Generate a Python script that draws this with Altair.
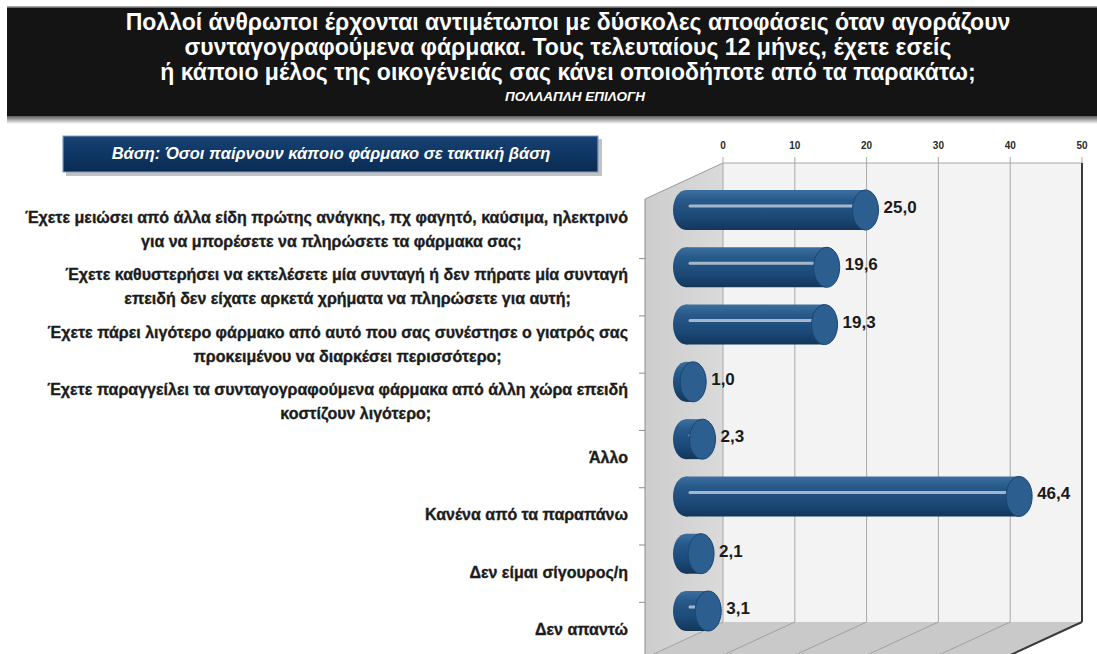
import altair as alt
import pandas as pd

# ---- data -------------------------------------------------------------
categories = [
    "Έχετε μειώσει από άλλα είδη πρώτης ανάγκης, πχ φαγητό, καύσιμα, ηλεκτρινό\nγια να μπορέσετε να πληρώσετε τα φάρμακα σας;",
    "Έχετε καθυστερήσει να εκτελέσετε μία συνταγή ή δεν πήρατε μία συνταγή\nεπειδή δεν είχατε αρκετά χρήματα να πληρώσετε για αυτή;",
    "Έχετε πάρει λιγότερο φάρμακο από αυτό που σας συνέστησε ο γιατρός σας\nπροκειμένου να διαρκέσει περισσότερο;",
    "Έχετε παραγγείλει τα συνταγογραφούμενα φάρμακα από άλλη χώρα επειδή\nκοστίζουν λιγότερο;",
    "Άλλο",
    "Κανένα από τα παραπάνω",
    "Δεν είμαι σίγουρος/η",
    "Δεν απαντώ",
]
values = [25.0, 19.6, 19.3, 1.0, 2.3, 46.4, 2.1, 3.1]
ticks = [0, 10, 20, 30, 40, 50]

title_lines = [
    "Πολλοί άνθρωποι έρχονται αντιμέτωποι με δύσκολες αποφάσεις όταν αγοράζουν",
    "συνταγογραφούμενα φάρμακα. Τους τελευταίους 12 μήνες, έχετε εσείς",
    "ή κάποιο μέλος της οικογένειάς σας κάνει οποιοδήποτε από τα παρακάτω;",
]
subtitle = "ΠΟΛΛΑΠΛΗ ΕΠΙΛΟΓΗ"
base_note = "Βάση: Όσοι παίρνουν κάποιο φάρμακο σε τακτική βάση"

# ---- layout constants (pixels) ----------------------------------------
W, H = 1097, 654
X0, X1 = 723, 1082          # back wall, value 0 .. 50
Y_TOP, Y_BOT = 163, 622     # back wall top / bottom
DX, DY = -78, 36            # depth direction of the 3-D box
BAR_DX = -37                # bars sit half way into the box
BAR_H = 40
CAP_HALF = 13
LABEL_RIGHT = 628
FONT = "Liberation Sans"
LBL_SIZE = 16
CHAR_W = 0.508 * LBL_SIZE   # average glyph width, used to centre second lines

xs = alt.Scale(domain=[0, 50], range=[X0, X1])
ys = alt.Scale(domain=categories, range=[210, 611], type="point", padding=0)

rows = pd.DataFrame({"cat": categories, "value": values})
rows["line1"] = rows["cat"].str.split("\n").str[0]
rows["line2"] = rows["cat"].str.split("\n").str[1].fillna("")
rows["label"] = rows["value"].map(lambda v: f"{v:.1f}".replace(".", ","))
rows["zero"] = 0

tick_df = pd.DataFrame({"t": ticks, "tl": [str(t) for t in ticks]})
one = pd.DataFrame({"k": [0]})

X = lambda f: alt.X(f, type="quantitative", scale=xs, axis=None)
Y = alt.Y("cat:N", scale=ys, axis=None)
PX = lambda f: alt.X(f, type="quantitative", scale=None, axis=None)
PY = lambda f: alt.Y(f, type="quantitative", scale=None, axis=None)

# ---- title band --------------------------------------------------------
title_bg = alt.Chart(one).mark_rect(color="#141414").encode(
    x=alt.value(7), x2=alt.value(W), y=alt.value(7), y2=alt.value(116))
title_edge = alt.Chart(one).mark_rule(color="#8a8a8a", strokeWidth=1.5).encode(
    x=alt.value(7), x2=alt.value(W), y=alt.value(7))
title_shadow = alt.Chart(one).mark_rect(
    color=alt.Gradient(gradient="linear", x1=0, x2=0, y1=0, y2=1,
                       stops=[alt.GradientStop(offset=0, color="#5a5a5a"),
                              alt.GradientStop(offset=1, color="#ffffff")])
).encode(x=alt.value(7), x2=alt.value(W), y=alt.value(116), y2=alt.value(124))
title_txt = alt.Chart(one).mark_text(
    text=title_lines, font=FONT, fontSize=23, fontWeight="bold", color="#ffffff",
    align="center", baseline="middle", lineHeight=25,
).encode(x=alt.value(568), y=alt.value(23))
sub_txt = alt.Chart(one).mark_text(
    text=subtitle, font=FONT, fontSize=13.5, fontWeight="bold", fontStyle="italic",
    color="#ffffff", align="center", baseline="middle",
).encode(x=alt.value(575), y=alt.value(97))

# ---- base note box -----------------------------------------------------
base_shadow = alt.Chart(one).mark_rect(color="#9a9a9a", opacity=0.6).encode(
    x=alt.value(66), x2=alt.value(602), y=alt.value(139), y2=alt.value(176))
base_box = alt.Chart(one).mark_rect(
    color=alt.Gradient(gradient="linear", x1=0, x2=0, y1=0, y2=1,
                       stops=[alt.GradientStop(offset=0, color="#154275"),
                              alt.GradientStop(offset=1, color="#0a2b52")]),
    stroke="#7e9dc0", strokeWidth=1.2,
).encode(x=alt.value(63), x2=alt.value(598), y=alt.value(136), y2=alt.value(172))
base_txt = alt.Chart(one).mark_text(
    text=base_note, font=FONT, fontSize=16.5, fontWeight="bold", fontStyle="italic",
    color="#ffffff", align="center", baseline="middle",
).encode(x=alt.value(331), y=alt.value(154))

# ---- 3-D box: back wall, side wall, floor ------------------------------
back_wall = alt.Chart(one).mark_rect(color="#f3f3f3").encode(
    x=alt.value(X0), x2=alt.value(X1), y=alt.value(Y_TOP), y2=alt.value(Y_BOT))

side = pd.DataFrame({"x": [X0 + DX, X0], "y": [Y_TOP + DY, Y_TOP],
                     "y2": [Y_BOT + DY, Y_BOT]})
side_wall = alt.Chart(side).mark_area(
    orient="vertical",
    color=alt.Gradient(gradient="linear", x1=0, x2=1, y1=0, y2=0,
                       stops=[alt.GradientStop(offset=0, color="#cdcdcd"),
                              alt.GradientStop(offset=1, color="#dadada")]),
).encode(x=PX("x"), y=PY("y"), y2="y2")
side_top = alt.Chart(side).mark_line(color="#9c9c9c", strokeWidth=1).encode(
    x=PX("x"), y=PY("y"))

floor = pd.DataFrame({"y": [Y_BOT, Y_BOT + DY], "x": [X0, X0 + DX],
                      "x2": [X1, X1 + DX]})
floor_area = alt.Chart(floor).mark_area(orient="horizontal", color="#c9c9c9").encode(
    y=PY("y"), x=PX("x"), x2="x2")

grid = alt.Chart(tick_df).mark_rule(color="#a8a8a8", strokeWidth=1).encode(
    x=X("t"), y=alt.value(Y_TOP - 6), y2=alt.value(Y_BOT))
floor_grid = alt.Chart(tick_df).mark_rule(color="#a0a0a0", strokeWidth=1, x2Offset=DX).encode(
    x=X("t"), x2="t", y=alt.value(Y_BOT), y2=alt.value(Y_BOT + DY))
top_edge = alt.Chart(one).mark_rule(color="#a8a8a8").encode(
    x=alt.value(X0), x2=alt.value(X1), y=alt.value(Y_TOP))
right_edge = alt.Chart(one).mark_rule(color="#3a3a3a", strokeWidth=2).encode(
    x=alt.value(X1), y=alt.value(Y_TOP), y2=alt.value(Y_BOT))
right_floor = alt.Chart(one).mark_rule(color="#3a3a3a", strokeWidth=2).encode(
    x=alt.value(X1), x2=alt.value(X1 + DX), y=alt.value(Y_BOT), y2=alt.value(Y_BOT + DY))
front_edge = alt.Chart(one).mark_rule(color="#8c8c8c").encode(
    x=alt.value(X0 + DX), y=alt.value(Y_TOP + DY), y2=alt.value(H))
sep_ticks = alt.Chart(rows.iloc[:-1]).mark_rule(color="#8c8c8c", yOffset=48.6).encode(
    y=Y, x=alt.value(X0 + DX - 6), x2=alt.value(X0 + DX))

tick_lbl = alt.Chart(tick_df).mark_text(
    font=FONT, fontSize=10, fontWeight="bold", color="#2a2a2a", baseline="middle",
).encode(x=X("t"), y=alt.value(146), text="tl:N")

# ---- cylinders ---------------------------------------------------------
body_grad = alt.Gradient(
    gradient="linear", x1=0, x2=0, y1=0, y2=1,
    stops=[alt.GradientStop(offset=0, color="#3d6f9e"),
           alt.GradientStop(offset=0.25, color="#27598a"),
           alt.GradientStop(offset=0.7, color="#1b4876"),
           alt.GradientStop(offset=1, color="#123659")])
ellipse = "M 0 -1 A 0.65 1 0 1 1 0 1 A 0.65 1 0 1 1 0 -1 Z"

left_end = alt.Chart(rows).mark_point(
    shape=ellipse, size=BAR_H ** 2, filled=True, fill=body_grad, opacity=1,
    xOffset=BAR_DX,
).encode(x=X("zero"), y=Y)
body = alt.Chart(rows).mark_bar(
    size=BAR_H, color=body_grad, xOffset=BAR_DX, x2Offset=BAR_DX,
).encode(x=X("zero"), x2="value", y=Y)
cap = alt.Chart(rows).mark_point(
    shape=ellipse, size=BAR_H ** 2, filled=True, fill="#2c5e8f", opacity=1,
    stroke="#1a4672", strokeWidth=1, xOffset=BAR_DX,
).encode(x=X("value"), y=Y)
shine = alt.Chart(rows).mark_rule(
    color="#b3c2d2", strokeWidth=3, strokeCap="round", opacity=0.9,
    xOffset=BAR_DX + 4, x2Offset=BAR_DX + 9, yOffset=-4,
).encode(x=X("zero"), x2="value", y=Y)
val_lbl = alt.Chart(rows).mark_text(
    font=FONT, fontSize=17, fontWeight="bold", color="#1a1a1a",
    align="left", baseline="middle", xOffset=BAR_DX + CAP_HALF + 5, yOffset=-2,
).encode(x=X("value"), y=Y, text="label:N")

# ---- category labels ---------------------------------------------------
lbl_style = dict(font=FONT, fontSize=LBL_SIZE, fontWeight="bold", color="#1c1c1c",
                 stroke="#1c1c1c", strokeWidth=0.35, baseline="middle")
two = alt.datum.line2 != ""
cat1 = alt.Chart(rows).transform_filter(two).mark_text(
    align="right", yOffset=8, **lbl_style,
).encode(x=alt.value(LABEL_RIGHT), y=Y, text="line1:N")
cat2 = alt.Chart(rows).transform_filter(two).transform_calculate(
    cx=f"{LABEL_RIGHT} - 0.5 * {CHAR_W} * length(datum.line1)"
).mark_text(
    align="center", yOffset=32, **lbl_style,
).encode(x=PX("cx"), y=Y, text="line2:N")
cat_single = alt.Chart(rows).transform_filter(~two).mark_text(
    align="right", yOffset=19, **lbl_style,
).encode(x=alt.value(LABEL_RIGHT), y=Y, text="line1:N")

chart = alt.layer(
    title_shadow, title_bg, title_edge, title_txt, sub_txt,
    base_shadow, base_box, base_txt,
    back_wall, side_wall, floor_area, grid, floor_grid, top_edge, side_top,
    right_edge, right_floor, front_edge, sep_ticks, tick_lbl,
    left_end, body, shine, cap, val_lbl,
    cat1, cat2, cat_single,
).resolve_scale(x="independent", y="independent").properties(
    width=W, height=H, autosize=alt.AutoSizeParams(type="none"), padding=0,
    background="#ffffff",
).configure_view(stroke=None)

chart.save("out.html", embed_options={"renderer": "svg", "actions": False})
